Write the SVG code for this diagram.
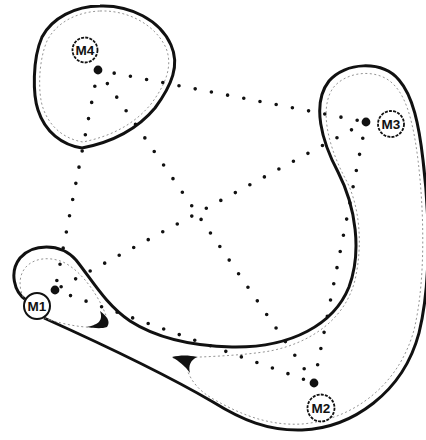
<svg xmlns="http://www.w3.org/2000/svg" width="426" height="440" viewBox="0 0 426 440">
<style>
.outline{fill:none;stroke:#111;stroke-width:3;stroke-linejoin:round}
.inner{fill:none;stroke:#888;stroke-width:0.9;stroke-dasharray:2 2.5}
.dark{fill:#111;stroke:none}
.dot{stroke:#111;stroke-width:3.6;stroke-linecap:round;stroke-dasharray:0 16.5;fill:none}
.node{fill:#111}
.ring{fill:#fff;stroke:#111;stroke-width:1.8;stroke-dasharray:3 1.2}
.ring.solid{stroke-dasharray:none;stroke-width:2}
.lbl{font-family:"Liberation Sans",Arial,sans-serif;font-weight:bold;font-size:13.5px;fill:#111;text-anchor:middle;dominant-baseline:central}
</style>
<rect width="426" height="440" fill="#fff"/>
<g id="regions">
<path id="basin-m4" class="outline" d="M100,6 C130,5 160,20 171,45 C180,65 172,85 155,108 C135,132 108,143 82,148 C62,145 45,132 38,110 C33,95 32,60 42,37 C52,18 75,6 100,6 Z"/>
<path class="inner" d="M100,11 C127,10 155,24 166,48 C173,66 166,84 151,104 C132,127 107,137 83,142 C65,139 50,128 43,108 C38,94 38,62 47,41 C56,23 76,12 100,11 Z"/>
<path id="basin-m123" class="outline" d="M26,300 C14,292 9,272 20,258 C32,244 60,242 76,260 C92,280 106,305 130,321 C158,339 192,346 232,347 C292,348 334,324 349,287 C362,252 356,207 338,172 C322,142 311,104 329,81 C345,62 382,60 399,80 C413,96 419,125 423,160 C429,210 432,280 419,333 C403,393 352,428 302,430 C268,431 242,420 213,402 C172,378 104,345 44,318"/>
<path class="inner" d="M50,320 C32,314 16,296 21,276 C26,259 46,255 63,262 C80,270 94,290 102,306 C105,313 108,318 107,325 C95,330 70,326 50,320 Z"/>
<path class="inner" d="M173,358 C200,357 240,356 270,351 C310,343 345,320 355,280 C363,245 360,205 345,178 C330,150 318,110 333,88 C347,70 380,68 395,86 C408,100 414,128 418,160 C424,210 426,280 414,330 C398,388 350,420 302,424 C268,426 240,414 215,400 C200,392 192,382 188,372"/>
<path class="dark" d="M100,311 C107,316 111,322 107,327 C101,329 94,328 87,327 C96,325 104,322 100,311 Z"/>
<path class="dark" d="M172,357 C180,355 189,355 197,357 C191,360 188,365 190,373 C185,366 179,361 172,357 Z"/>
</g>
<g id="connectors">
<line class="dot" x1="98" y1="70" x2="366" y2="122"/>
<line class="dot" x1="98" y1="70" x2="314" y2="383"/>
<line class="dot" x1="98" y1="70" x2="55" y2="290"/>
<line class="dot" x1="366" y1="122" x2="55" y2="290"/>
<line class="dot" x1="366" y1="122" x2="314" y2="383"/>
<line class="dot" x1="55" y1="290" x2="314" y2="383"/>
</g>
<g id="M4"><circle class="node" cx="98" cy="70" r="4.4"/><circle class="ring" cx="85" cy="50" r="12.5"/><text class="lbl" x="85" y="50">M4</text></g>
<g id="M3"><circle class="node" cx="366" cy="122" r="4.4"/><circle class="ring" cx="391" cy="124" r="13"/><text class="lbl" x="391" y="124">M3</text></g>
<g id="M2"><circle class="node" cx="314" cy="383" r="4.4"/><circle class="ring" cx="321" cy="408" r="13.5"/><text class="lbl" x="321" y="408">M2</text></g>
<g id="M1"><circle class="node" cx="55" cy="290" r="4.4"/><circle class="ring solid" cx="37" cy="306" r="13"/><text class="lbl" x="37" y="306">M1</text></g>
</svg>
